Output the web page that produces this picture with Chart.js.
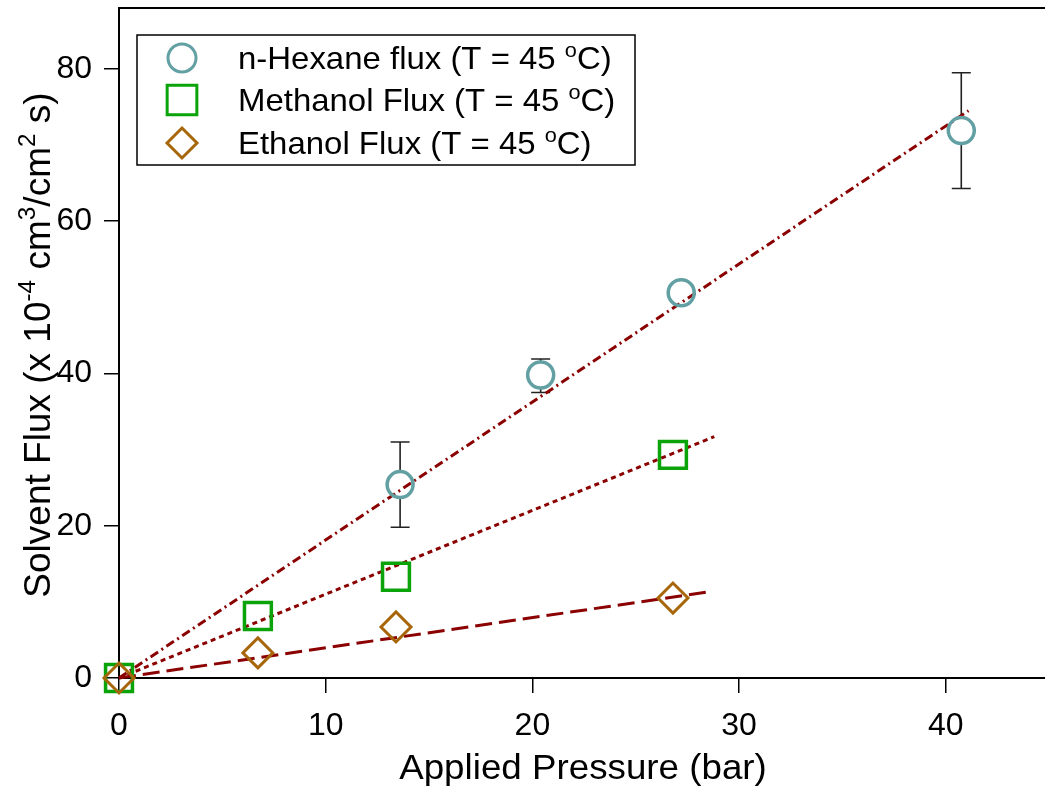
<!DOCTYPE html>
<html>
<head>
<meta charset="utf-8">
<script src="https://cdn.jsdelivr.net/npm/chart.js@4.4.1/dist/chart.umd.min.js"></script>
<style>
  html, body { margin: 0; padding: 0; background: #fff; overflow: hidden; }
  #wrap { position: relative; width: 1045px; height: 793px; }
</style>
</head>
<body>
<div id="wrap"><canvas id="c" width="1045" height="793"></canvas></div>
<script>
// Measured solvent flux vs applied pressure at 45 °C
const hexanePressure = [13.6, 20.4, 27.2, 40.75];
const hexaneFlux     = [25.4, 39.8, 50.6, 71.9];
const hexaneErrLow   = [19.8, 37.5, 50.6, 64.3];
const hexaneErrHigh  = [31.0, 41.9, 50.6, 79.5];

const methanolPressure = [0, 6.72, 13.4, 26.8];
const methanolFlux     = [0, 8.15, 13.3, 29.3];

const ethanolPressure = [0, 6.72, 13.4, 26.8];
const ethanolFlux     = [0, 3.3, 6.7, 10.5];

// Linear fits through the origin (end points of each fitted line)
const hexaneFitX   = [0, 41.1];
const hexaneFitY   = [0, 74.5];
const methanolFitX = [0, 28.8];
const methanolFitY = [0, 31.7];
const ethanolFitX  = [0, 28.5];
const ethanolFitY  = [0, 11.3];

const xTicks = [0, 10, 20, 30, 40];
const yTicks = [0, 20, 40, 60, 80];

const legendLabels = ['n-Hexane flux (T = 45 ', 'Methanol Flux (T = 45 ', 'Ethanol Flux (T = 45 '];

const TEAL = '#62a0a3';
const GREEN = '#0aa30a';
const BROWN = '#a8660a';
const FIT = '#8b0000';
const FONT = '"Liberation Sans", Arial, sans-serif';

const pts = (xs, ys) => xs.map((x, i) => ({ x, y: ys[i] }));

// Scales keep no extra label padding so the plot frame sits where the layout puts it
function noPadding(s) {
  s.paddingLeft = 0; s.paddingRight = 0; s.paddingTop = 0; s.paddingBottom = 0;
}

// Draws a run of text where some pieces are superscripts
function drawRich(ctx, parts, x, y, size, align) {
  const sup = size * 0.66;
  let w = 0;
  parts.forEach(p => {
    ctx.font = (p.sup ? sup : size) + 'px ' + FONT;
    w += ctx.measureText(p.t).width;
  });
  let cx = align === 'center' ? x - w / 2 : x;
  ctx.textAlign = 'left';
  ctx.textBaseline = 'alphabetic';
  parts.forEach(p => {
    ctx.font = (p.sup ? sup : size) + 'px ' + FONT;
    ctx.fillText(p.t, cx, p.sup ? y - size * 0.4 : y);
    cx += ctx.measureText(p.t).width;
  });
}

const decorations = {
  id: 'decorations',
  beforeDatasetsDraw(chart) {
    const { ctx, chartArea, scales } = chart;
    const xs = scales.x, ys = scales.y;
    // top frame line
    ctx.save();
    ctx.strokeStyle = '#000';
    ctx.lineWidth = 2;
    ctx.beginPath();
    ctx.moveTo(chartArea.left, chartArea.top);
    ctx.lineTo(chart.width, chartArea.top);
    ctx.stroke();

    // error bars on the n-hexane points (outside the marker)
    ctx.strokeStyle = '#222';
    ctx.lineWidth = 1.6;
    const r = 13;
    hexanePressure.forEach((p, i) => {
      const px = xs.getPixelForValue(p);
      const pc = ys.getPixelForValue(hexaneFlux[i]);
      const pHi = ys.getPixelForValue(hexaneErrHigh[i]);
      const pLo = ys.getPixelForValue(hexaneErrLow[i]);
      if (pc - pHi > r) {
        ctx.beginPath();
        ctx.moveTo(px, pc - r); ctx.lineTo(px, pHi);
        ctx.moveTo(px - 9.5, pHi); ctx.lineTo(px + 9.5, pHi);
        ctx.stroke();
      }
      if (pLo - pc > r) {
        ctx.beginPath();
        ctx.moveTo(px, pc + r); ctx.lineTo(px, pLo);
        ctx.moveTo(px - 9.5, pLo); ctx.lineTo(px + 9.5, pLo);
        ctx.stroke();
      }
    });
    ctx.restore();
  },
  afterDraw(chart) {
    const { ctx } = chart;
    ctx.save();
    ctx.fillStyle = '#000';

    // x axis title
    ctx.save();
    ctx.translate(583, 779);
    ctx.scale(1.05, 1);
    drawRich(ctx, [{ t: 'Applied Pressure (bar)' }], 0, 0, 35, 'center');
    ctx.restore();

    // y axis title
    ctx.save();
    ctx.translate(50, 345);
    ctx.rotate(-Math.PI / 2);
    drawRich(ctx, [
      { t: 'Solvent Flux (x 10' }, { t: '-4', sup: true },
      { t: ' cm' }, { t: '3', sup: true },
      { t: '/cm' }, { t: '2', sup: true },
      { t: ' s)' }
    ], 0, 0, 37, 'center');
    ctx.restore();

    // legend
    const box = { l: 137, t: 35, r: 635, b: 165 };
    ctx.fillStyle = '#fff';
    ctx.fillRect(box.l, box.t, box.r - box.l, box.b - box.t);
    ctx.strokeStyle = '#000';
    ctx.lineWidth = 1.5;
    ctx.strokeRect(box.l, box.t, box.r - box.l, box.b - box.t);
    const rows = [58, 100, 143];
    const styles = [
      { style: 'circle', color: TEAL, radius: 14 },
      { style: 'rect', color: GREEN, radius: 21 },
      { style: 'rectRot', color: BROWN, radius: 15 }
    ];
    rows.forEach((y, i) => {
      ctx.save();
      ctx.strokeStyle = styles[i].color;
      ctx.fillStyle = 'rgba(0,0,0,0)';
      ctx.lineWidth = 3;
      Chart.helpers.drawPoint(ctx, { pointStyle: styles[i].style, radius: styles[i].radius, borderWidth: 3 }, 182, y);
      ctx.restore();
      ctx.save();
      ctx.fillStyle = '#000';
      ctx.translate(238, y + 11);
      ctx.scale(1.08, 1);
      drawRich(ctx, [{ t: legendLabels[i] }, { t: 'o', sup: true }, { t: 'C)' }], 0, 0, 30.5, 'left');
      ctx.restore();
    });
    ctx.restore();
  }
};

new Chart(document.getElementById('c'), {
  type: 'scatter',
  data: {
    datasets: [
      { label: 'hexane fit', data: pts(hexaneFitX, hexaneFitY), showLine: true, borderColor: FIT, borderWidth: 3,
        borderDash: [9, 4, 2, 4], pointRadius: 0, clip: false, order: 5 },
      { label: 'methanol fit', data: pts(methanolFitX, methanolFitY), showLine: true, borderColor: FIT, borderWidth: 3,
        borderDash: [5, 4], pointRadius: 0, clip: false, order: 5 },
      { label: 'ethanol fit', data: pts(ethanolFitX, ethanolFitY), showLine: true, borderColor: FIT, borderWidth: 3,
        borderDash: [17, 7], pointRadius: 0, clip: false, order: 5 },
      { label: 'n-Hexane', data: pts(hexanePressure, hexaneFlux), pointStyle: 'circle', pointRadius: 13,
        borderColor: TEAL, backgroundColor: 'rgba(0,0,0,0)', pointBorderWidth: 3.5, clip: false, order: 1 },
      { label: 'Methanol', data: pts(methanolPressure, methanolFlux), pointStyle: 'rect', pointRadius: 19,
        borderColor: GREEN, backgroundColor: 'rgba(0,0,0,0)', pointBorderWidth: 3.5, clip: false, order: 2 },
      { label: 'Ethanol', data: pts(ethanolPressure, ethanolFlux), pointStyle: 'rectRot', pointRadius: 15,
        borderColor: BROWN, backgroundColor: 'rgba(0,0,0,0)', pointBorderWidth: 3, clip: false, order: 0 }
    ]
  },
  options: {
    responsive: false,
    animation: false,
    events: [],
    layout: { autoPadding: false, padding: { top: 8, right: 0, left: 0, bottom: 0 } },
    plugins: { legend: { display: false }, tooltip: { enabled: false } },
    scales: {
      x: {
        type: 'linear', min: 0, max: 44.8,
        afterBuildTicks: s => { s.ticks = xTicks.map(v => ({ value: v })); },
        afterFit: s => { s.height = 115; noPadding(s); },
        grid: { drawOnChartArea: false, tickLength: 15, color: '#000', lineWidth: 1.5 },
        border: { color: '#000', width: 2 },
        ticks: { color: '#000', font: { family: FONT, size: 32 }, padding: 14, maxRotation: 0 }
      },
      y: {
        type: 'linear', min: 0, max: 88,
        afterBuildTicks: s => { s.ticks = yTicks.map(v => ({ value: v })); },
        afterFit: s => { s.width = 119; noPadding(s); },
        grid: { drawOnChartArea: false, tickLength: 15, color: '#000', lineWidth: 1.5 },
        border: { color: '#000', width: 2 },
        ticks: { color: '#000', font: { family: FONT, size: 32 }, padding: 12 }
      }
    }
  },
  plugins: [decorations]
});
</script>
</body>
</html>
